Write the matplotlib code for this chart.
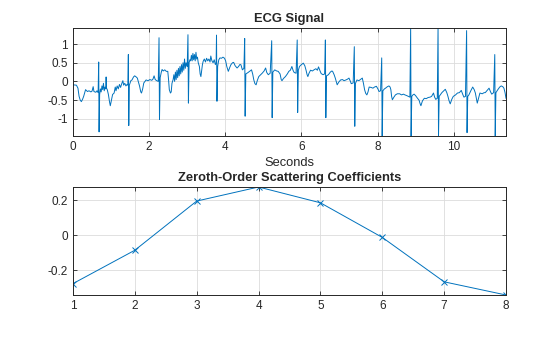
import matplotlib
matplotlib.use('Agg')
import matplotlib.pyplot as plt

plt.rcParams['font.family'] = ['Liberation Sans', 'DejaVu Sans']

# ECG trace (seconds, amplitude)
ecg = [
    (0.00, -0.09), (0.09, -0.10), (0.13, -0.18), (0.16, -0.40), (0.19, -0.50), (0.22, -0.54),
    (0.25, -0.48), (0.28, -0.40), (0.33, -0.22), (0.38, -0.27), (0.42, -0.25), (0.47, -0.28),
    (0.50, -0.26), (0.53, -0.14), (0.55, -0.27), (0.60, -0.29), (0.63, -0.25), (0.66, -0.30),
    (0.675, 0.52), (0.685, -1.35), (0.70, -0.35),
    (0.72, -0.20), (0.74, -0.28), (0.76, -0.12), (0.78, -0.22), (0.80, -0.05), (0.82, -0.25),
    (0.84, -0.15), (0.86, -0.20), (0.87, 0.12), (0.88, -0.18), (0.90, -0.22), (0.93, -0.35),
    (0.96, -0.55), (0.98, -0.65), (1.01, -0.50), (1.04, -0.35), (1.08, -0.31), (1.11, -0.15),
    (1.13, -0.25), (1.16, -0.12), (1.19, -0.20), (1.22, -0.08), (1.25, -0.16), (1.28, -0.06),
    (1.31, 0.02), (1.33, -0.10), (1.36, -0.05), (1.39, -0.12), (1.42, -0.08), (1.44, -0.10),
    (1.454, 0.72), (1.465, -1.18), (1.48, -0.10),
    (1.52, 0.02), (1.55, 0.04), (1.59, 0.12), (1.62, 0.15), (1.66, 0.12), (1.69, 0.09),
    (1.72, -0.02), (1.75, -0.13), (1.78, -0.28), (1.80, -0.31), (1.83, -0.20), (1.86, -0.04),
    (1.92, 0.04), (1.97, 0.02), (2.02, 0.05), (2.07, 0.03), (2.10, 0.06), (2.13, 0.15),
    (2.16, 0.05), (2.20, 0.02), (2.24, 0.00),
    (2.26, 1.17), (2.272, -1.02), (2.29, 0.10),
    (2.32, 0.25), (2.34, 0.32), (2.37, 0.28), (2.41, 0.31), (2.45, 0.27), (2.49, 0.27),
    (2.51, 0.05), (2.53, -0.22), (2.56, -0.31), (2.58, -0.28), (2.60, -0.05), (2.63, 0.05),
    (2.65, 0.18), (2.67, 0.00), (2.69, 0.25), (2.71, 0.05), (2.73, 0.30), (2.75, 0.10),
    (2.77, 0.35), (2.79, 0.15), (2.81, 0.40), (2.83, 0.20), (2.85, 0.45), (2.87, 0.25),
    (2.89, 0.50), (2.91, 0.30), (2.93, 0.60), (2.95, 0.35), (2.97, 0.50), (2.99, 0.45),
    (3.00, 0.40),
    (3.02, 1.25), (3.032, -0.58), (3.05, 0.50),
    (3.07, 0.58), (3.09, 0.55), (3.11, 0.70), (3.13, 0.55), (3.15, 0.75), (3.17, 0.58),
    (3.19, 0.72), (3.21, 0.55), (3.23, 0.78), (3.25, 0.60), (3.27, 0.65), (3.29, 0.50),
    (3.32, 0.40), (3.34, 0.20), (3.36, 0.13), (3.38, 0.30), (3.40, 0.45), (3.42, 0.54),
    (3.45, 0.60), (3.48, 0.52), (3.51, 0.62), (3.54, 0.55), (3.57, 0.60), (3.60, 0.52),
    (3.62, 0.68), (3.65, 0.55), (3.68, 0.50), (3.71, 0.58), (3.74, 0.45), (3.76, 0.50),
    (3.77, 1.24), (3.782, -0.53), (3.80, 0.40),
    (3.83, 0.58), (3.86, 0.63), (3.90, 0.62), (3.94, 0.65), (3.98, 0.62), (4.01, 0.55),
    (4.04, 0.40), (4.08, 0.27), (4.12, 0.38), (4.15, 0.45), (4.19, 0.50), (4.22, 0.51),
    (4.26, 0.42), (4.31, 0.36), (4.35, 0.40), (4.38, 0.45), (4.41, 0.45), (4.45, 0.31),
    (4.49, 0.35),
    (4.51, 1.15), (4.522, -0.93), (4.54, 0.20),
    (4.57, 0.22), (4.60, 0.24), (4.65, 0.28), (4.69, 0.31), (4.72, 0.20), (4.75, 0.04),
    (4.78, -0.06), (4.81, -0.09), (4.84, 0.02), (4.88, 0.13), (4.93, 0.18), (4.97, 0.22),
    (5.02, 0.28), (5.06, 0.36), (5.09, 0.24), (5.13, 0.18), (5.18, 0.22),
    (5.22, 1.09), (5.232, -0.97), (5.25, 0.25),
    (5.30, 0.31), (5.35, 0.28), (5.39, 0.27), (5.44, 0.20), (5.47, 0.05), (5.49, 0.02),
    (5.53, 0.08), (5.58, 0.13), (5.63, 0.20), (5.67, 0.27), (5.71, 0.30), (5.75, 0.40),
    (5.78, 0.30), (5.81, 0.24), (5.86, 0.22),
    (5.89, 1.11), (5.902, -0.83), (5.92, 0.30),
    (5.95, 0.40), (6.00, 0.45), (6.05, 0.49), (6.09, 0.42), (6.12, 0.31), (6.15, 0.18),
    (6.17, 0.13), (6.20, 0.22), (6.24, 0.30), (6.29, 0.28), (6.33, 0.31), (6.38, 0.34),
    (6.42, 0.30), (6.45, 0.39), (6.49, 0.28), (6.52, 0.21), (6.57, 0.18), (6.61, 0.20),
    (6.63, 1.11), (6.642, -0.97), (6.66, 0.15),
    (6.71, 0.18), (6.76, 0.25), (6.80, 0.28), (6.82, 0.27), (6.86, 0.18), (6.89, 0.09),
    (6.92, -0.02), (6.94, -0.09), (6.98, -0.02), (7.03, 0.04), (7.08, 0.05), (7.12, 0.02),
    (7.17, 0.04), (7.21, 0.06), (7.25, 0.09), (7.28, 0.02), (7.31, -0.06), (7.36, -0.04),
    (7.39, 0.93), (7.402, -1.20), (7.42, -0.05),
    (7.46, 0.04), (7.51, 0.02), (7.56, 0.06), (7.60, 0.09), (7.63, -0.05), (7.66, -0.22),
    (7.69, -0.32), (7.72, -0.36), (7.75, -0.28), (7.78, -0.15), (7.83, -0.16), (7.88, -0.18),
    (7.92, -0.15), (7.97, -0.13), (8.01, -0.20), (8.04, -0.27), (8.08, -0.25),
    (8.11, 0.63), (8.122, -1.46), (8.14, -0.25),
    (8.18, -0.20), (8.21, -0.18), (8.26, -0.14), (8.30, -0.12), (8.33, -0.15), (8.35, -0.22),
    (8.37, -0.40), (8.39, -0.49), (8.43, -0.42), (8.47, -0.36), (8.52, -0.33), (8.58, -0.33),
    (8.63, -0.36), (8.68, -0.34), (8.72, -0.36), (8.77, -0.38), (8.81, -0.40), (8.85, -0.42),
    (8.87, 1.43), (8.882, -1.46), (8.90, -0.40),
    (8.93, -0.36), (8.96, -0.34), (9.00, -0.38), (9.05, -0.45), (9.09, -0.50), (9.12, -0.60),
    (9.14, -0.65), (9.18, -0.52), (9.23, -0.45), (9.28, -0.46), (9.33, -0.43), (9.38, -0.42),
    (9.42, -0.40), (9.47, -0.31), (9.50, -0.42), (9.53, -0.48), (9.57, -0.45),
    (9.59, 1.43), (9.602, -1.46), (9.62, -0.40),
    (9.66, -0.34), (9.69, -0.30), (9.74, -0.25), (9.78, -0.21), (9.82, -0.30), (9.85, -0.40),
    (9.88, -0.52), (9.91, -0.60), (9.95, -0.48), (9.99, -0.40), (10.05, -0.36), (10.10, -0.31),
    (10.15, -0.30), (10.20, -0.24), (10.24, -0.35), (10.27, -0.42), (10.31, -0.40),
    (10.34, 1.36), (10.352, -1.37), (10.37, -0.40),
    (10.40, -0.36), (10.45, -0.25), (10.50, -0.15), (10.54, -0.22), (10.57, -0.31), (10.60, -0.48),
    (10.62, -0.58), (10.66, -0.42), (10.69, -0.31), (10.75, -0.33), (10.80, -0.30), (10.83, -0.30),
    (10.88, -0.24), (10.93, -0.18), (10.97, -0.28), (11.00, -0.34), (11.05, -0.30),
    (11.08, 0.72), (11.092, -1.46), (11.11, -0.30),
    (11.16, -0.22), (11.21, -0.15), (11.25, -0.12), (11.29, -0.14), (11.32, -0.18), (11.35, -0.30),
    (11.375, -0.45),
]
t = [p[0] for p in ecg]
sig = [p[1] for p in ecg]

# zeroth-order scattering coefficients
coef_idx = [1, 2, 3, 4, 5, 6, 7, 8]
coef_val = [-0.275, -0.085, 0.195, 0.275, 0.185, -0.012, -0.265, -0.34]

blue = '#0072BD'
axcol = '#262626'

fig = plt.figure(figsize=(5.6, 3.37), dpi=100)
ax1 = fig.add_axes([73/560, 1-136/337, 433/560, 108/337])
ax2 = fig.add_axes([73/560, 1-295/337, 433/560, 108/337])

def style(ax):
    ax.grid(True, color='#dcdcdc', lw=0.6)
    ax.set_axisbelow(True)
    ax.tick_params(direction='in', top=True, right=True, length=3, width=0.6,
                   labelsize=8.5, colors=axcol, pad=3.5)
    for s in ax.spines.values():
        s.set_color(axcol)
        s.set_linewidth(0.7)

ax1.plot(t, sig, color=blue, lw=0.7)
ax1.set_xlim(0, t[-1])
ax1.set_ylim(min(sig), max(sig))
ax1.set_xticks([0, 2, 4, 6, 8, 10])
ax1.set_yticks([-1, -0.5, 0, 0.5, 1])
ax1.set_yticklabels(['-1', '-0.5', '0', '0.5', '1'])
ax1.set_title('ECG Signal', fontsize=9.3, fontweight='bold', color=axcol, pad=4)
ax1.set_xlabel('Seconds', fontsize=9.3, color=axcol, labelpad=3)
style(ax1)

ax2.plot(coef_idx, coef_val, color=blue, lw=0.7, marker='x', ms=5, mew=0.7)
ax2.set_xlim(1, 8)
ax2.set_ylim(min(coef_val), max(coef_val))
ax2.set_xticks(coef_idx)
ax2.set_yticks([-0.2, 0, 0.2])
ax2.set_yticklabels(['-0.2', '0', '0.2'])
ax2.set_title('Zeroth-Order Scattering Coefficients', fontsize=9.3, fontweight='bold',
              color=axcol, pad=4)
style(ax2)

fig.savefig('out.png', dpi=100)
